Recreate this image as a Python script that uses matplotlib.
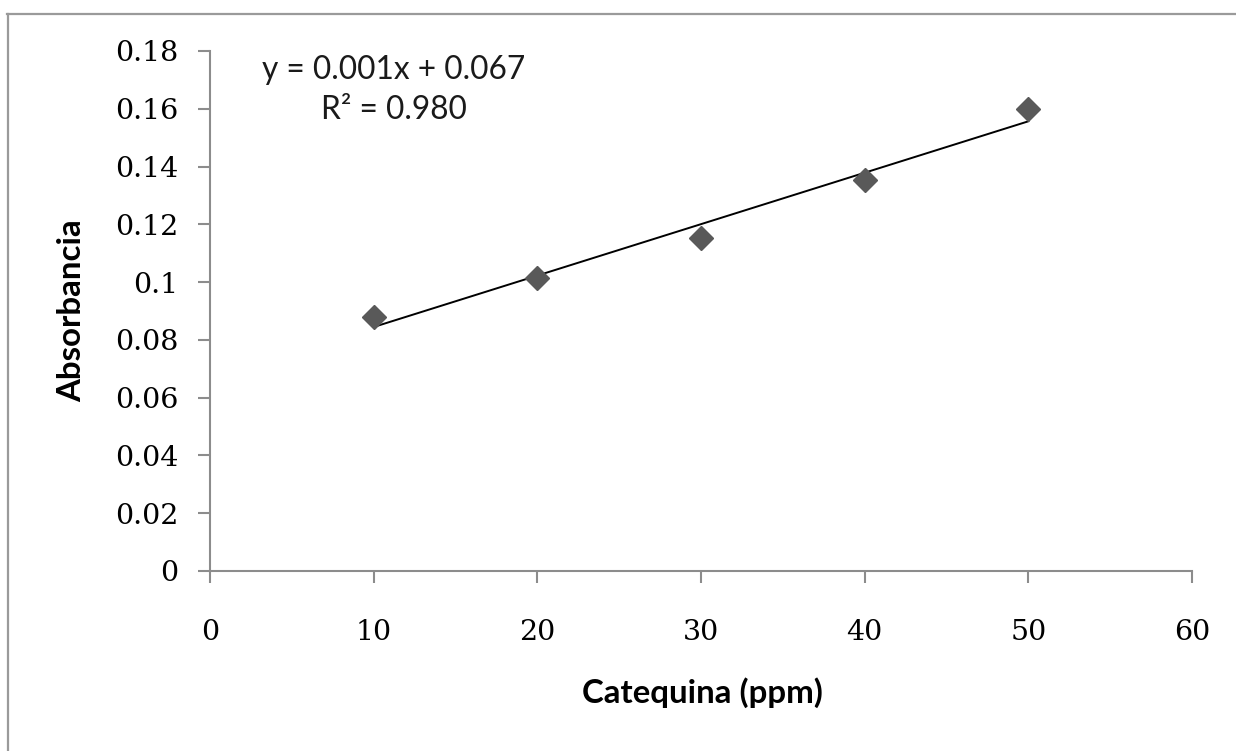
import matplotlib
matplotlib.use("Agg")
import matplotlib.pyplot as plt
import numpy as np
from matplotlib.ticker import FuncFormatter, MultipleLocator
from matplotlib.lines import Line2D

# calibration curve data
catequina = [10, 20, 30, 40, 50]
absorbancia = [0.088, 0.1015, 0.1153, 0.1355, 0.160]
eq_text = "y = 0.001x + 0.067"
r2_text = "R\u00b2 = 0.980"

fig = plt.figure(figsize=(12.36, 7.51), dpi=100)
ax = fig.add_axes([0.1699, 0.2397, 0.7945, 0.6924])

ax.plot(catequina, absorbancia, linestyle="none", marker="D", ms=12,
        color="#595959", zorder=3)

# linear trendline
slope, icept = np.polyfit(catequina, absorbancia, 1)
xs = np.array([catequina[0], catequina[-1]])
ax.plot(xs, slope * xs + icept, color="black", lw=1.4, zorder=2)

ax.set_xlim(0, 60)
ax.set_ylim(0, 0.18)
ax.xaxis.set_major_locator(MultipleLocator(10))
ax.yaxis.set_major_locator(MultipleLocator(0.02))
ax.yaxis.set_major_formatter(FuncFormatter(lambda v, p: "%g" % round(v, 2)))

for s in ["top", "right"]:
    ax.spines[s].set_visible(False)
for s in ["left", "bottom"]:
    ax.spines[s].set_color("#8c8c8c")
    ax.spines[s].set_linewidth(1.5)

ax.tick_params(direction="out", length=8.5, width=1.5, color="#8c8c8c",
               labelsize=20.5)
ax.tick_params(axis="y", pad=14)
ax.tick_params(axis="x", pad=26)
for lab in ax.get_xticklabels() + ax.get_yticklabels():
    lab.set_family("DejaVu Serif")
    lab.set_color("black")
    lab.set_fontweight("medium")

ax.set_xlabel("Catequina (ppm)", family="Lato", fontweight="bold",
              fontsize=23.8)
ax.set_ylabel("Absorbancia", family="Lato", fontweight="bold", fontsize=23.8)
ax.xaxis.set_label_coords(0.501, -0.2346)
ax.xaxis.label.set_va("center")
ax.yaxis.set_label_coords(-0.1405, 0.5)
ax.yaxis.label.set_va("center")

ax.text(0.1874, 0.9635, eq_text, transform=ax.transAxes, ha="center",
        va="center", family="Lato", fontsize=22.8, color="#1a1a1a")
ax.text(0.1874, 0.8865, r2_text, transform=ax.transAxes, ha="center",
        va="center", family="Lato", fontsize=22.8, color="#1a1a1a")

# outer chart border (top and left visible)
fig.add_artist(Line2D([7 / 1236, 1], [1 - 14 / 751, 1 - 14 / 751],
                      transform=fig.transFigure, color="#9a9a9a", lw=1.6))
fig.add_artist(Line2D([8 / 1236, 8 / 1236], [0, 1 - 14 / 751],
                      transform=fig.transFigure, color="#9a9a9a", lw=1.6))

fig.savefig("out.png", dpi=100)
